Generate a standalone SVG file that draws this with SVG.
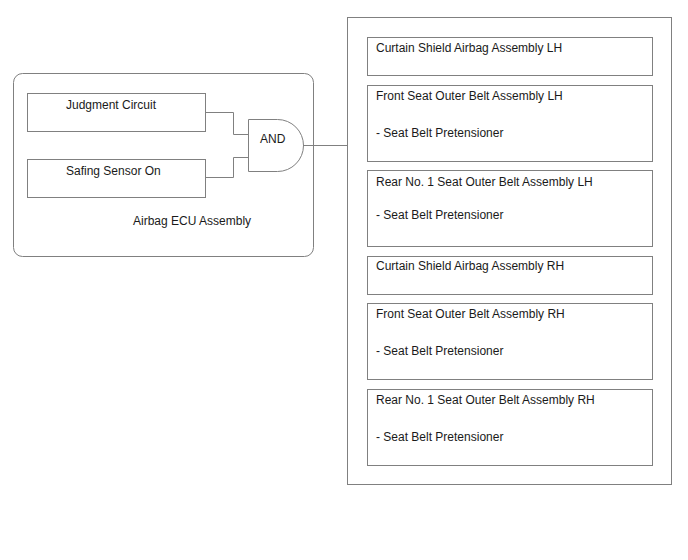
<svg xmlns="http://www.w3.org/2000/svg" width="688" height="560" viewBox="0 0 688 560">
<style>
.b{fill:#fff;stroke:#808080;stroke-width:1}
.c{fill:none;stroke:#808080;stroke-width:1}
text{font-family:"Liberation Sans",Arial,sans-serif;font-size:12px;fill:#1a1a1a}
</style>
<rect width="688" height="560" fill="#fff"/>
<g id="ecu"><rect class="b" x="13.5" y="73.5" width="300" height="183" rx="9"/><text x="133" y="225">Airbag ECU Assembly</text></g>
<g id="judgment"><rect class="b" x="27.5" y="93.5" width="178" height="38"/><text x="66" y="109">Judgment Circuit</text></g>
<g id="safing"><rect class="b" x="27.5" y="159.5" width="178" height="38"/><text x="66" y="175">Safing Sensor On</text></g>
<g id="and"><path class="b" d="M248.5,119.5 H277.5 A25.5,25.5 0 0 1 277.5,171.5 H248.5 Z"/><text x="260" y="143">AND</text></g>
<g id="connectors">
<path class="c" d="M205.5,112.5 H233.5 V134.5 H248.5"/>
<path class="c" d="M205.5,177.5 H233.5 V157.5 H248.5"/>
<path class="c" d="M303,145.5 H347.5"/>
</g>
<g id="outputs"><rect class="b" x="347.5" y="17.5" width="324" height="467"/></g>
<g id="n1"><rect class="b" x="367.5" y="37.5" width="285" height="38"/><text x="376" y="52">Curtain Shield Airbag Assembly LH</text></g>
<g id="n2"><rect class="b" x="367.5" y="85.5" width="285" height="76"/><text x="376" y="100">Front Seat Outer Belt Assembly LH</text><text x="376" y="137">- Seat Belt Pretensioner</text></g>
<g id="n3"><rect class="b" x="367.5" y="170.5" width="285" height="76"/><text x="376" y="186">Rear No. 1 Seat Outer Belt Assembly LH</text><text x="376" y="219">- Seat Belt Pretensioner</text></g>
<g id="n4"><rect class="b" x="367.5" y="256.5" width="285" height="38"/><text x="376" y="270">Curtain Shield Airbag Assembly RH</text></g>
<g id="n5"><rect class="b" x="367.5" y="303.5" width="285" height="76"/><text x="376" y="318">Front Seat Outer Belt Assembly RH</text><text x="376" y="355">- Seat Belt Pretensioner</text></g>
<g id="n6"><rect class="b" x="367.5" y="389.5" width="285" height="76"/><text x="376" y="404">Rear No. 1 Seat Outer Belt Assembly RH</text><text x="376" y="441">- Seat Belt Pretensioner</text></g>
</svg>
